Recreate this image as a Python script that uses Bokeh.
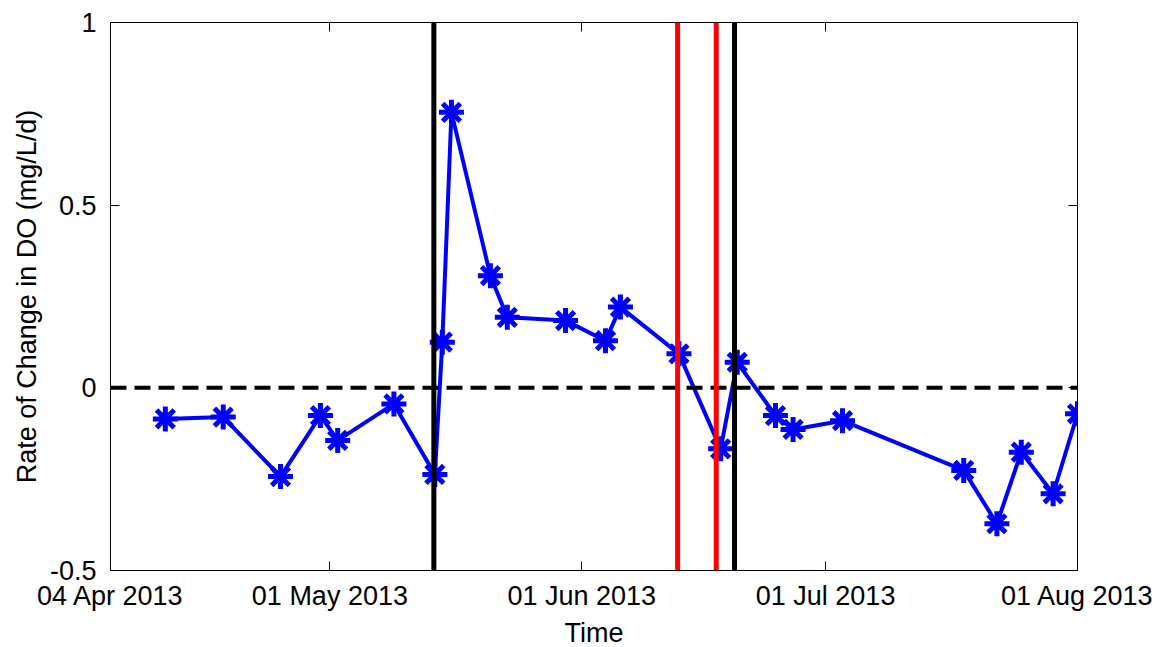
import pandas as pd
from bokeh.plotting import figure
from bokeh.models import (Range1d, Span, FixedTicker, DatetimeTickFormatter,
                          CustomJSTickFormatter, LinearAxis, DatetimeAxis, ColumnDataSource)
from bokeh.embed import file_html
from bokeh.resources import INLINE

# ---- data ----
sample_times = ["2013-04-10 18:00", "2013-04-17 21:00", "2013-04-24 22:00", "2013-04-29 20:00",
                "2013-05-01 23:00", "2013-05-08 21:00", "2013-05-13 22:00", "2013-05-14 20:00",
                "2013-05-15 23:00", "2013-05-20 18:00", "2013-05-22 20:00", "2013-05-30 00:00",
                "2013-06-03 22:00", "2013-06-05 18:00", "2013-06-12 23:00", "2013-06-18 02:00",
                "2013-06-20 03:00", "2013-06-24 20:00", "2013-06-27 00:00", "2013-07-03 02:00",
                "2013-07-18 00:00", "2013-07-22 02:00", "2013-07-25 02:00", "2013-07-29 00:00",
                "2013-08-01 00:00"]
rate_change = [-0.085, -0.080, -0.243, -0.076, -0.144, -0.044, -0.237, 0.125,
               0.754, 0.307, 0.193, 0.184, 0.129, 0.221, 0.093, -0.167,
               0.070, -0.076, -0.114, -0.090, -0.226, -0.372, -0.176, -0.290,
               -0.071]
black_lines = ["2013-05-13 19:00", "2013-06-19 19:00"]
red_lines = ["2013-06-12 19:00", "2013-06-17 13:00"]
x_tick_dates = ["2013-04-04", "2013-05-01", "2013-06-01", "2013-07-01", "2013-08-01"]
y_ticks = [-0.5, 0, 0.5, 1]
x_start, x_end = "2013-04-04", "2013-08-01"
y_start, y_end = -0.5, 1

FONT = "Liberation Sans"
FS = "27px"

src = ColumnDataSource(dict(t=pd.to_datetime(sample_times), r=rate_change))

p = figure(frame_width=967, frame_height=548, x_axis_type="datetime",
           x_range=Range1d(pd.Timestamp(x_start), pd.Timestamp(x_end)),
           y_range=Range1d(y_start, y_end),
           output_backend="svg", toolbar_location=None,
           min_border_left=110, min_border_top=22, min_border_right=89, min_border_bottom=77)
p.background_fill_color = "white"
p.border_fill_color = "white"
p.outline_line_color = "black"
p.outline_line_width = 1
p.grid.visible = False

x_tick_ms = [pd.Timestamp(d).value / 1e6 for d in x_tick_dates]
fmt = "%d %b %Y"
dfmt = DatetimeTickFormatter(microseconds=fmt, milliseconds=fmt, seconds=fmt, minsec=fmt,
                             minutes=fmt, hourmin=fmt, hours=fmt, days=fmt, months=fmt, years=fmt)

xa = p.below[0]
xa.ticker = FixedTicker(ticks=x_tick_ms)
xa.formatter = dfmt
xa.axis_label = "Time"
ya = p.left[0]
ya.ticker = FixedTicker(ticks=y_ticks)
ya.formatter = CustomJSTickFormatter(code="return String(Math.round(tick*10)/10)")
ya.axis_label = "Rate of Change in DO (mg/L/d)"

for ax in (xa, ya):
    ax.major_label_text_font = FONT
    ax.major_label_text_font_size = FS
    ax.major_label_text_color = "black"
    ax.axis_label_text_font = FONT
    ax.axis_label_text_font_size = FS
    ax.axis_label_text_font_style = "normal"
    ax.axis_label_text_color = "black"
    ax.major_tick_in = 9
    ax.major_tick_out = 0
    ax.minor_tick_in = 0
    ax.minor_tick_out = 0
    ax.axis_line_color = "black"
    ax.major_tick_line_color = "black"
xa.major_label_standoff = 10
xa.axis_label_standoff = 4
ya.major_label_standoff = 14
ya.axis_label_standoff = 5

# box ticks on top and right (no labels, as in the reference)
blank = CustomJSTickFormatter(code="return ''")
top = DatetimeAxis(ticker=FixedTicker(ticks=x_tick_ms), formatter=blank,
                   major_tick_in=9, major_tick_out=0,
                   minor_tick_in=0, minor_tick_out=0, major_label_standoff=0)
right = LinearAxis(ticker=FixedTicker(ticks=y_ticks), formatter=blank,
                   major_tick_in=9, major_tick_out=0,
                   minor_tick_in=0, minor_tick_out=0, major_label_standoff=0)
p.add_layout(top, "above")
p.add_layout(right, "right")

# data
p.line("t", "r", source=src, line_color="#0000FF", line_width=4)
p.scatter("t", "r", source=src, marker="asterisk", size=25, line_color="#0000FF", line_width=5)

# reference lines
p.add_layout(Span(location=0, dimension="width", line_color="black", line_width=4, line_dash="16 8"))
for d in red_lines:
    p.add_layout(Span(location=pd.Timestamp(d), dimension="height", line_color="#FF0000", line_width=5))
for d in black_lines:
    p.add_layout(Span(location=pd.Timestamp(d), dimension="height", line_color="black", line_width=5))

open("out.html", "w").write(file_html(p, INLINE))
